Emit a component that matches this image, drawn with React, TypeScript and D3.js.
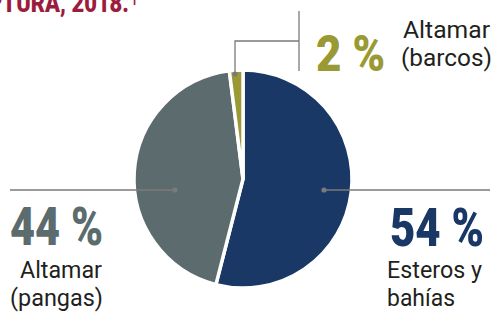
import React, { useEffect, useRef } from 'react';
import * as d3 from 'd3';

// data
const categories = ['Esteros y bahías', 'Altamar (pangas)', 'Altamar (barcos)'];
const values = [54, 44, 2];
const percentLabels = ['54 %', '44 %', '2 %'];
const nameLines = [['Esteros y', 'bahías'], ['Altamar', '(pangas)'], ['Altamar', '(barcos)']];
const colors = ['#1a3866', '#5b6b6e', '#9a9a34'];

const width = 493;
const height = 314;

const App: React.FC = () => {
  const svgRef = useRef<SVGSVGElement>(null);

  useEffect(() => {
    if (!svgRef.current) return;
    const svg = d3.select(svgRef.current);
    svg.selectAll('*').remove();

    const cx = 243;
    const cy = 179;
    const radius = 109;

    // title fragment (cropped at the top edge)
    svg
      .append('text')
      .attr('x', -12)
      .attr('y', 12)
      .attr('fill', '#9b1c3c')
      .style('font-family', 'Roboto, sans-serif')
      .style('font-weight', 900)
      .style('font-size', '25px')
      .attr('textLength', 141)
      .attr('lengthAdjust', 'spacingAndGlyphs')
      .text('PTURA, 2018.');
    svg
      .append('text')
      .attr('x', 131)
      .attr('y', 5)
      .attr('fill', '#9b1c3c')
      .style('font-family', 'Roboto, sans-serif')
      .style('font-weight', 'bold')
      .style('font-size', '11px')
      .text('1');

    const pie = d3
      .pie<number>()
      .sort(null)
      .value(d => d);
    const arcs = pie(values);
    const arc = d3.arc<d3.PieArcDatum<number>>().innerRadius(0).outerRadius(radius);

    const g = svg.append('g').attr('transform', `translate(${cx},${cy})`);

    g.selectAll('path')
      .data(arcs)
      .enter()
      .append('path')
      .attr('d', arc)
      .attr('fill', (_, i) => colors[i])
      .attr('stroke', '#fff')
      .attr('stroke-width', 3.5)
      .attr('stroke-linejoin', 'miter');

    // leader lines
    const lineColor = '#7a7a7a';
    const leaders = [
      { dot: [324, 190], path: [[324, 190], [490, 190]] },
      { dot: [175, 190], path: [[175, 190], [10, 190]] },
      { dot: [235, 74], path: [[235, 74], [235, 41], [299, 41]] },
    ];
    const line = d3.line();
    leaders.forEach(l => {
      svg
        .append('path')
        .attr('d', line(l.path as [number, number][]))
        .attr('fill', 'none')
        .attr('stroke', lineColor)
        .attr('stroke-width', 1.3);
      svg
        .append('circle')
        .attr('cx', l.dot[0])
        .attr('cy', l.dot[1])
        .attr('r', 2.6)
        .attr('fill', lineColor);
    });
    svg
      .append('line')
      .attr('x1', 299)
      .attr('x2', 299)
      .attr('y1', 11)
      .attr('y2', 71)
      .attr('stroke', lineColor)
      .attr('stroke-width', 1.3);

    // labels
    const pctPos = [
      { x: 390, y: 246, w: 94, s: 53 },
      { x: 10, y: 245, w: 93, s: 53 },
      { x: 316, y: 71, w: 69, s: 50 },
    ];
    const namePos = [
      [{ x: 387, y: 278, w: 95 }, { x: 387, y: 306, w: 68 }],
      [{ x: 20, y: 278, w: 82 }, { x: 10, y: 306, w: 93 }],
      [{ x: 403, y: 38, w: 87 }, { x: 401, y: 66, w: 91 }],
    ];

    categories.forEach((_, i) => {
      const p = pctPos[i];
      svg
        .append('text')
        .attr('x', p.x)
        .attr('y', p.y)
        .attr('fill', colors[i])
        .style('font-family', 'Roboto, sans-serif')
        .style('font-weight', 900)
        .style('font-size', `${p.s}px`)
        .attr('textLength', p.w)
        .attr('lengthAdjust', 'spacingAndGlyphs')
        .text(percentLabels[i]);
      nameLines[i].forEach((t, j) => {
        const n = namePos[i][j];
        svg
          .append('text')
          .attr('x', n.x)
          .attr('y', n.y)
          .attr('fill', '#231f20')
          .style('font-family', 'Roboto, sans-serif')
          .style('font-size', '23px')
          .attr('textLength', n.w)
          .attr('lengthAdjust', 'spacingAndGlyphs')
          .text(t);
      });
    });
  }, []);

  return (
    <svg
      ref={svgRef}
      width={width}
      height={height}
      style={{ position: 'absolute', left: 0, top: 0, background: '#fff' }}
    />
  );
};

export default App;
